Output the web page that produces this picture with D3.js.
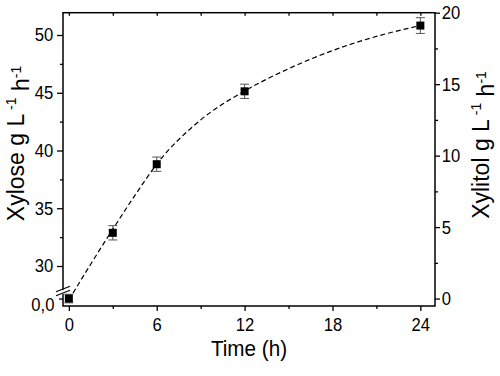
<!DOCTYPE html>
<html>
<head>
<meta charset="utf-8">
<script src="https://cdn.jsdelivr.net/npm/d3@7"></script>
<style>
  html, body { margin: 0; padding: 0; background: #fff; }
  svg { display: block; font-family: "Liberation Sans", Arial, sans-serif; }
</style>
</head>
<body>
<svg id="chart" width="500" height="376"></svg>
<script>
// ---- data ----
const times = [0, 3, 6, 12, 24];
const xylitol = [0.0, 4.6, 9.4, 14.5, 19.1];
const errors = [0.3, 0.5, 0.5, 0.5, 0.55];

// dashed fitted trend line
const fitTimes = [0, 1.5, 3, 4.5, 6, 9, 12, 15, 18, 21, 24];
const fitValues = [-0.1, 2.42, 4.85, 7.2, 9.4, 12.5, 14.52, 16.08, 17.35, 18.34, 19.1];

const xMajorTicks = [0, 6, 12, 18, 24];
const xMinorTicks = [3, 9, 15, 21];
const leftMajorTicks = [30, 35, 40, 45, 50];
const leftMinorTicks = [32.5, 37.5, 42.5, 47.5];
const leftBreakTicks = [0];
const leftBreakLabels = ["0,0"];
const rightMajorTicks = [0, 5, 10, 15, 20];
const rightMinorTicks = [2.5, 7.5, 12.5, 17.5];

const xTitle = "Time (h)";
const leftTitle = "Xylose g L";
const rightTitle = "Xylitol g L";

// ---- layout ----
const L = 63, R = 435, T = 12.7, B = 306;
const svg = d3.select("#chart");

const x = d3.scaleLinear().domain([-0.4, 25]).range([L, R]);
const yR = d3.scaleLinear().domain([-0.52, 20]).range([B, T]);
const yL = d3.scaleLinear().domain([30, 50]).range([266, 35]);

const tickFont = "18.5px";
const sx = 0.9;

// frame
svg.append("rect").attr("x", L).attr("y", T).attr("width", R - L).attr("height", B - T)
  .attr("fill", "none").attr("stroke", "#000").attr("stroke-width", 1.5);

function style(g) {
  g.select(".domain").remove();
  g.selectAll("line").attr("stroke", "#000").attr("stroke-width", 1.3);
  g.selectAll("text").attr("fill", "#000").style("font-size", tickFont)
    .style("font-family", '"Liberation Sans", Arial, sans-serif');
}

// bottom axis
const gxB = svg.append("g").attr("transform", `translate(0,${B})`)
  .call(d3.axisBottom(x).tickValues(xMajorTicks).tickSize(5).tickFormat(d3.format("d")));
style(gxB);
gxB.selectAll("text").attr("y", 25).attr("dy", null).attr("transform", `scale(${sx},1)`);
const gxBm = svg.append("g").attr("transform", `translate(0,${B})`)
  .call(d3.axisBottom(x).tickValues(xMinorTicks).tickSize(3).tickFormat(""));
style(gxBm);

// top axis (inward ticks)
const gxT = svg.append("g").attr("transform", `translate(0,${T})`)
  .call(d3.axisBottom(x).tickValues(xMajorTicks.concat(xMinorTicks)).tickSize(3).tickFormat(""));
style(gxT);

// left axis (upper segment)
const gyL = svg.append("g").attr("transform", `translate(${L},0)`)
  .call(d3.axisLeft(yL).tickValues(leftMajorTicks).tickSize(6).tickFormat(d3.format("d")));
style(gyL);
gyL.selectAll("text").attr("x", -10.8).attr("transform", `scale(${sx},1)`);
const gyLm = svg.append("g").attr("transform", `translate(${L},0)`)
  .call(d3.axisLeft(yL).tickValues(leftMinorTicks).tickSize(3).tickFormat(""));
style(gyLm);

// left axis (below break)
const gyLb = svg.append("g").attr("transform", `translate(${L},0)`)
  .call(d3.axisLeft(yR).tickValues(leftBreakTicks).tickSize(4).tickFormat((d, i) => leftBreakLabels[i]));
style(gyLb);
gyLb.selectAll("text").attr("x", -9.5).attr("dy", "0.62em").attr("transform", `scale(${sx},1)`);

// right axis
const gyR = svg.append("g").attr("transform", `translate(${R},0)`)
  .call(d3.axisRight(yR).tickValues(rightMajorTicks).tickSize(5).tickFormat(d3.format("d")));
style(gyR);
gyR.selectAll("text").attr("x", 7.5).attr("transform", `scale(${sx},1)`);
const gyRm = svg.append("g").attr("transform", `translate(${R},0)`)
  .call(d3.axisRight(yR).tickValues(rightMinorTicks).tickSize(3).tickFormat(""));
style(gyRm);

// axis break marks on left axis
const brk = svg.append("g");
brk.append("polygon")
  .attr("points", `${L - 3},${291.2} ${L + 3},${288.8} ${L + 3},${292.8} ${L - 3},${295.2}`)
  .attr("fill", "#fff");
brk.append("line").attr("x1", L - 7).attr("y1", 291.8).attr("x2", L + 7).attr("y2", 286.3)
  .attr("stroke", "#000").attr("stroke-width", 1.2);
brk.append("line").attr("x1", L - 7).attr("y1", 295.8).attr("x2", L + 7).attr("y2", 290.3)
  .attr("stroke", "#000").attr("stroke-width", 1.2);

// dashed fitted curve
const fitPts = fitTimes.map((t, i) => [t, fitValues[i]]);
const line = d3.line().x(d => x(d[0])).y(d => yR(d[1])).curve(d3.curveMonotoneX);
svg.append("path").datum(fitPts).attr("d", line)
  .attr("fill", "none").attr("stroke", "#000").attr("stroke-width", 1.2)
  .attr("stroke-dasharray", "5,3");

// error bars
const pts = times.map((t, i) => [t, xylitol[i]]);
const eb = svg.append("g").attr("stroke", "#555").attr("stroke-width", 1);
pts.forEach((d, i) => {
  const cx = x(d[0]), y1 = yR(d[1] + errors[i]), y2 = yR(d[1] - errors[i]);
  eb.append("line").attr("x1", cx).attr("x2", cx).attr("y1", y1).attr("y2", y2);
  eb.append("line").attr("x1", cx - 4.5).attr("x2", cx + 4.5).attr("y1", y1).attr("y2", y1);
  eb.append("line").attr("x1", cx - 4.5).attr("x2", cx + 4.5).attr("y1", y2).attr("y2", y2);
});

// markers
svg.append("g").selectAll("rect").data(pts).join("rect")
  .attr("x", d => x(d[0]) - 4).attr("y", d => yR(d[1]) - 4)
  .attr("width", 8).attr("height", 8).attr("fill", "#000");

// titles
svg.append("text").attr("transform", `translate(${(L + R) / 2},356) scale(0.94,1)`)
  .attr("text-anchor", "middle").style("font-size", "22px").text(xTitle);

function yTitle(tx, ty, txt) {
  const t = svg.append("text").attr("transform", `translate(${tx},${ty}) rotate(-90)`)
    .attr("text-anchor", "middle").style("font-size", "23px");
  t.append("tspan").text(txt);
  t.append("tspan").attr("dy", "-0.55em").style("font-size", "14px").text(" -1");
  t.append("tspan").attr("dy", "0.55em").text(" h");
  t.append("tspan").attr("dy", "-0.55em").style("font-size", "14px").text("-1");
}
yTitle(24, 143.5, leftTitle);
yTitle(489, 145, rightTitle);
</script>
</body>
</html>
